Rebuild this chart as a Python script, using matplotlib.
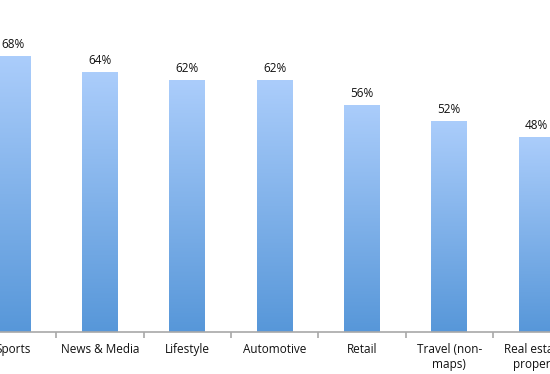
import numpy as np
import matplotlib
matplotlib.use("Agg")
from matplotlib import pyplot as plt
from matplotlib.colors import LinearSegmentedColormap

categories = ["Sports", "News & Media", "Lifestyle", "Automotive", "Retail",
              "Travel (non-\nmaps)", "Real estate/\nproperty"]
values = [68, 64, 62, 62, 56, 52, 48]

plt.rcParams['font.family'] = ['Open Sans', 'DejaVu Sans']

fig = plt.figure(figsize=(5.5, 3.74), dpi=100)
ax = fig.add_axes([0, 42 / 374, 1, 332 / 374])

x = np.arange(len(categories))
width = 0.41
bars = ax.bar(x, values, width=width, facecolor='none', edgecolor='none')

cmap = LinearSegmentedColormap.from_list("grad", ["#5797D9", "#ABCDFB"])
grad = np.linspace(0, 1, 256).reshape(-1, 1)
for b, v in zip(bars, values):
    x0 = b.get_x()
    im = ax.imshow(grad, cmap=cmap, origin='lower', aspect='auto',
                   extent=[x0, x0 + width, 0, v], zorder=2)
    im.set_clip_path(b)
    ax.text(b.get_x() + width / 2, v + 1.2, f"{v}%", ha='center', va='bottom',
            fontsize=8.5, color='#111111')

for s in ['top', 'right', 'left']:
    ax.spines[s].set_visible(False)
ax.spines['bottom'].set_color('#a8a8a8')
ax.spines['bottom'].set_linewidth(1.2)
ax.set_yticks([])

ax.set_xticks(x[:-1] + 0.5, minor=False)
ax.set_xticklabels([])
ax.tick_params(axis='x', which='major', length=4, color='#a8a8a8', width=1.2)
ax.set_xticks(x, minor=True)
ax.set_xticklabels(categories, minor=True, fontsize=8.5, color='#111111',
                   linespacing=1.15)
ax.tick_params(axis='x', which='minor', length=0, pad=8)

ax.set_xlim(-0.1455, 6.155)
ax.set_ylim(0, 81.8)

fig.savefig("out.png", dpi=100)
